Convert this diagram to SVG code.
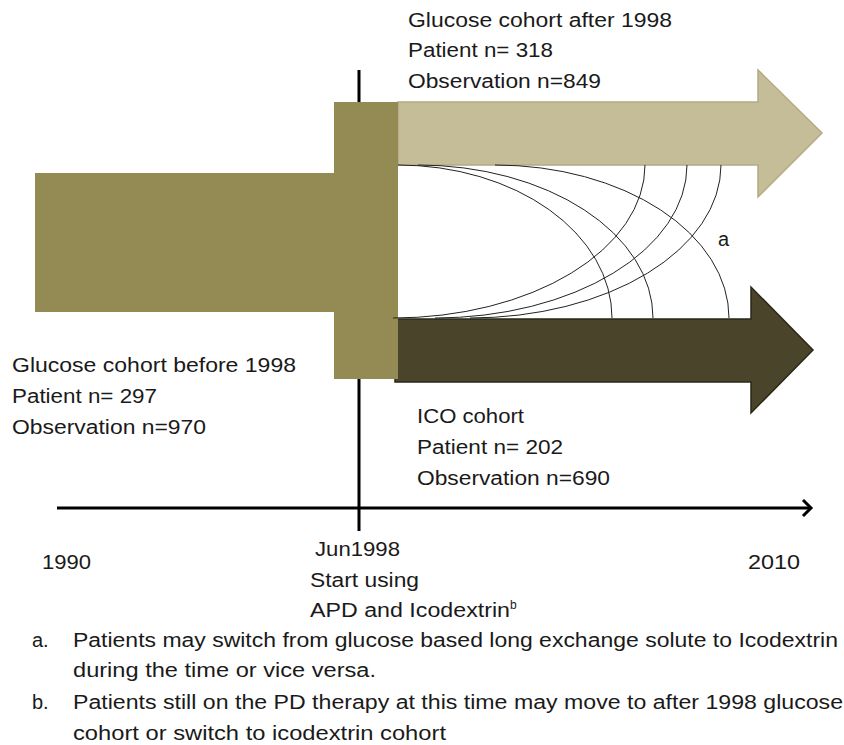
<svg xmlns="http://www.w3.org/2000/svg" width="844" height="745" viewBox="0 0 844 745">
<style>
text{font-family:"Liberation Sans",Arial,sans-serif;font-size:20px;fill:#1a1a1a}
.olive{fill:#948A54}
.light{fill:#C4BD97;stroke:#B3AB82;stroke-width:1.5}
.dark{fill:#4A452A;stroke:#2a2718;stroke-width:1.5}
.curve{fill:none;stroke:#222;stroke-width:1}
.axis{fill:none;stroke:#000;stroke-width:3}
</style>
<rect width="844" height="745" fill="#fff"/>
<g id="timeline">
<line class="axis" x1="359" y1="70" x2="359" y2="531"/>
<line class="axis" x1="57" y1="508" x2="810" y2="508"/>
<polyline class="axis" points="803,500 811,508 803,516" stroke-width="2.5"/>
</g>
<g id="glucose-after">
<polygon class="light" points="398,102 758,102 758,70 822,133 758,197 758,165 398,165"/>
<text x="408" y="27" textLength="264" lengthAdjust="spacingAndGlyphs">Glucose cohort after 1998</text>
<text x="408" y="57" textLength="145" lengthAdjust="spacingAndGlyphs">Patient n= 318</text>
<text x="408" y="88" textLength="193" lengthAdjust="spacingAndGlyphs">Observation n=849</text>
</g>
<g id="ico">
<polygon class="dark" points="395,319 751,319 751,287 813,350 751,413 751,382 395,382"/>
<text x="417" y="423" textLength="107" lengthAdjust="spacingAndGlyphs">ICO cohort</text>
<text x="417" y="454" textLength="146" lengthAdjust="spacingAndGlyphs">Patient n= 202</text>
<text x="417" y="485" textLength="193" lengthAdjust="spacingAndGlyphs">Observation n=690</text>
</g>
<g id="glucose-before">
<rect class="olive" x="35" y="173" width="300" height="139"/>
<text x="12" y="372" textLength="284" lengthAdjust="spacingAndGlyphs">Glucose cohort before 1998</text>
<text x="12" y="403" textLength="145" lengthAdjust="spacingAndGlyphs">Patient n= 297</text>
<text x="12" y="434" textLength="194" lengthAdjust="spacingAndGlyphs">Observation n=970</text>
</g>
<g id="transition">
<rect class="olive" x="334" y="102" width="64" height="277"/>
</g>
<g id="connectors">
<path class="curve" d="M398,165 A214,153 0 0 1 612,318"/>
<path class="curve" d="M418,165 A235,153 0 0 1 653,318"/>
<path class="curve" d="M495,165 A234,153 0 0 1 729,318"/>
<path class="curve" d="M393,318 A252,153 0 0 0 645,165"/>
<path class="curve" d="M435,318 A252,153 0 0 0 687,165"/>
<path class="curve" d="M470,318 A251,153 0 0 0 721,165"/>
<text x="718" y="246">a</text>
</g>
<g id="labels">
<text x="42" y="569" textLength="49" lengthAdjust="spacingAndGlyphs">1990</text>
<text x="748" y="569" textLength="52" lengthAdjust="spacingAndGlyphs">2010</text>
<text x="315" y="556" textLength="85" lengthAdjust="spacingAndGlyphs">Jun1998</text>
<text x="310" y="587" textLength="109" lengthAdjust="spacingAndGlyphs">Start using</text>
<text x="310" y="617"><tspan textLength="200" lengthAdjust="spacingAndGlyphs">APD and Icodextrin</tspan><tspan font-size="12" dy="-8">b</tspan></text>
</g>
<g id="notes">
<text x="32" y="647">a.</text>
<text x="73" y="647" textLength="765" lengthAdjust="spacingAndGlyphs">Patients may switch from glucose based long exchange solute to Icodextrin</text>
<text x="73" y="677" textLength="303" lengthAdjust="spacingAndGlyphs">during the time or vice versa.</text>
<text x="32" y="709">b.</text>
<text x="73" y="709" textLength="770" lengthAdjust="spacingAndGlyphs">Patients still on the PD therapy at this time may move to after 1998 glucose</text>
<text x="73" y="740" textLength="373" lengthAdjust="spacingAndGlyphs">cohort or switch to icodextrin cohort</text>
</g>
</svg>
